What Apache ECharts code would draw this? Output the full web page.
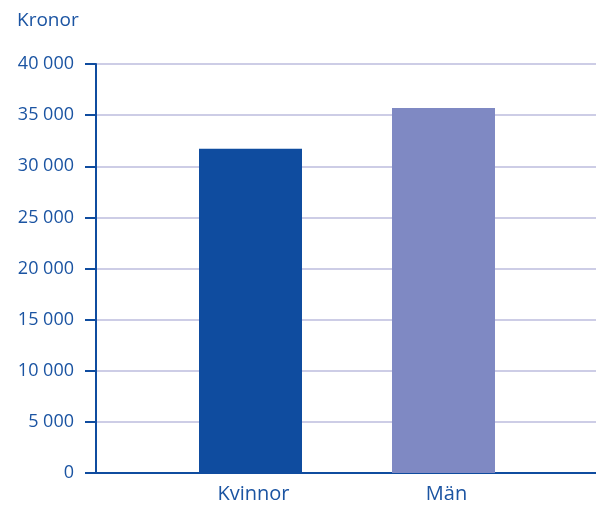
<!DOCTYPE html>
<html>
<head>
<meta charset="utf-8">
<script src="https://cdn.jsdelivr.net/npm/echarts@6/dist/echarts.min.js"></script>
<style>
  html, body { margin: 0; padding: 0; background: #fff; }
  #main { width: 596px; height: 506px; }
</style>
</head>
<body>
<div id="main"></div>
<script>
  // data
  var categories = ['Kvinnor', 'Män'];
  var values = [31700, 35700];
  var barColors = ['#0f4c9f', '#7f89c3'];
  var yMin = 0, yMax = 40000, yStep = 5000;

  var blue = '#0f4c9f';
  var textBlue = '#1b54a2';
  var font = 'Open Sans';

  function fmt(v) {
    return String(v).replace(/\B(?=(\d{3})+(?!\d))/g, ' ');
  }

  var myChart = echarts.init(document.getElementById('main'));

  var option = {
    animation: false,
    title: {
      text: 'Kronor',
      left: 12,
      top: 6,
      textStyle: { color: textBlue, fontFamily: font, fontSize: 19, fontWeight: 'normal' }
    },
    grid: [
      // axes + gridlines
      { left: 96, right: 0, top: 64, bottom: 33 },
      // bars
      { left: 154, width: 386, top: 64, bottom: 33 }
    ],
    xAxis: [{
      gridIndex: 0,
      type: 'category',
      data: [''],
      axisLine: { show: true, lineStyle: { color: blue, width: 2 } },
      axisTick: { show: false },
      axisLabel: { show: false },
      splitLine: { show: false }
    }, {
      gridIndex: 1,
      type: 'category',
      data: categories,
      axisLine: { show: false },
      axisTick: { show: false },
      axisLabel: { color: textBlue, fontFamily: font, fontSize: 20, margin: 11, padding: [0, 0, 0, 6] }
    }],
    yAxis: [{
      gridIndex: 0,
      type: 'value',
      min: yMin,
      max: yMax,
      interval: yStep,
      axisLine: { show: true, lineStyle: { color: blue, width: 2 } },
      axisTick: { show: true, length: 11, lineStyle: { color: blue, width: 2 } },
      axisLabel: {
        color: textBlue, fontFamily: font, fontSize: 18, margin: 22,
        padding: [4, 0, 0, 0],
        formatter: fmt
      },
      splitLine: { show: true, lineStyle: { color: '#cdcde6', width: 2 } }
    }, {
      gridIndex: 1,
      type: 'value',
      min: yMin,
      max: yMax,
      show: false
    }],
    series: [{
      type: 'bar',
      xAxisIndex: 1,
      yAxisIndex: 1,
      barWidth: 103,
      data: values.map(function (v, i) {
        return { value: v, itemStyle: { color: barColors[i] } };
      })
    }]
  };

  myChart.setOption(option);
</script>
</body>
</html>
